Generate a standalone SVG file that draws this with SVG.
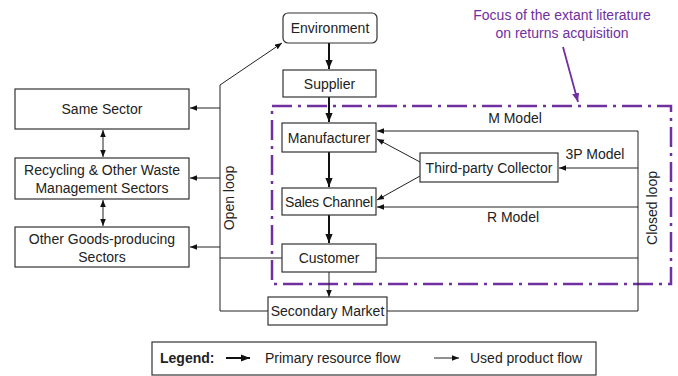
<svg xmlns="http://www.w3.org/2000/svg" width="678" height="376" viewBox="0 0 678 376">
<defs>
<marker id="thin" viewBox="0 0 10 10" refX="10" refY="5" markerWidth="7" markerHeight="7" markerUnits="userSpaceOnUse" orient="auto"><path d="M0,1 L10,5 L0,9 z" fill="#111"/></marker>
<marker id="thick" viewBox="0 0 10 10" refX="10" refY="5" markerWidth="9" markerHeight="9" markerUnits="userSpaceOnUse" orient="auto"><path d="M0,1 L10,5 L0,9 z" fill="#111"/></marker>
<marker id="purp" viewBox="0 0 10 10" refX="10" refY="5" markerWidth="9" markerHeight="9" markerUnits="userSpaceOnUse" orient="auto"><path d="M0,1 L10,5 L0,9 z" fill="#7030A0"/></marker>
</defs>
<style>
text{font-family:"Liberation Sans",Arial,sans-serif;font-size:14px;fill:#222;}
.c{text-anchor:middle;}
.box{fill:#fff;stroke:#333;stroke-width:1.2;}
.ln{fill:none;stroke:#222;stroke-width:1;}
.th{fill:none;stroke:#111;stroke-width:2;}
.p{fill:#7030A0;}
</style>
<rect width="678" height="376" fill="#fff"/>
<g id="focus-region">
<rect x="272" y="106" width="399" height="178" fill="none" stroke="#7030A0" stroke-width="2.5" stroke-dasharray="20,6,3,6"/>
<text class="c p" x="562" y="20">Focus of the extant literature</text>
<text class="c p" x="562" y="38">on returns acquisition</text>
<line x1="563" y1="47" x2="578" y2="102" stroke="#7030A0" stroke-width="1.8" marker-end="url(#purp)"/>
</g>
<g id="connectors">
<line class="th" x1="329" y1="43" x2="329" y2="69" marker-end="url(#thick)"/>
<line class="th" x1="329" y1="97" x2="329" y2="122" marker-end="url(#thick)"/>
<line class="th" x1="329" y1="152" x2="329" y2="187" marker-end="url(#thick)"/>
<line class="th" x1="329" y1="215" x2="329" y2="243" marker-end="url(#thick)"/>
<line class="ln" x1="329" y1="272" x2="329" y2="297" marker-end="url(#thin)"/>
<polyline class="ln" points="638,311 638,131 377,131" marker-end="url(#thin)"/>
<line class="ln" x1="638" y1="168" x2="559" y2="168" marker-end="url(#thin)"/>
<line class="ln" x1="638" y1="207" x2="377" y2="207" marker-end="url(#thin)"/>
<line class="ln" x1="376" y1="258" x2="638" y2="258"/>
<line class="ln" x1="387" y1="311" x2="638" y2="311"/>
<line class="ln" x1="420" y1="162" x2="377" y2="139" marker-end="url(#thin)"/>
<line class="ln" x1="420" y1="176" x2="377" y2="200" marker-end="url(#thin)"/>
<polyline class="ln" points="268,311 220,311 220,85 282,43" marker-end="url(#thin)"/>
<line class="ln" x1="220" y1="258" x2="282" y2="258"/>
<line class="ln" x1="220" y1="108" x2="190" y2="108" marker-end="url(#thin)"/>
<line class="ln" x1="220" y1="178" x2="190" y2="178" marker-end="url(#thin)"/>
<line class="ln" x1="220" y1="247" x2="190" y2="247" marker-end="url(#thin)"/>
<line class="ln" x1="103" y1="143" x2="103" y2="130" marker-end="url(#thin)"/>
<line class="ln" x1="103" y1="143" x2="103" y2="157" marker-end="url(#thin)"/>
<line class="ln" x1="103" y1="213" x2="103" y2="200" marker-end="url(#thin)"/>
<line class="ln" x1="103" y1="213" x2="103" y2="226" marker-end="url(#thin)"/>
<text class="c" x="515" y="123">M Model</text>
<text class="c" x="595" y="159">3P Model</text>
<text class="c" x="513" y="222">R Model</text>
<text class="c" transform="translate(657,208) rotate(-90)">Closed loop</text>
<text class="c" transform="translate(234,198) rotate(-90)">Open loop</text>
</g>
<g id="environment"><rect class="box" x="283" y="13" width="94" height="30" rx="5"/><text class="c" x="330" y="33">Environment</text></g>
<g id="supplier"><rect class="box" x="283" y="70" width="93" height="27"/><text class="c" x="329.5" y="88.5">Supplier</text></g>
<g id="manufacturer"><rect class="box" x="282" y="123" width="94" height="29"/><text class="c" x="329" y="142.5">Manufacturer</text></g>
<g id="sales-channel"><rect class="box" x="282" y="188" width="94" height="27"/><text class="c" x="329" y="206.5" style="letter-spacing:-0.25px">Sales Channel</text></g>
<g id="customer"><rect class="box" x="282" y="244" width="94" height="28"/><text class="c" x="329" y="263">Customer</text></g>
<g id="secondary-market"><rect class="box" x="268" y="297" width="119" height="28"/><text class="c" x="327.5" y="316">Secondary Market</text></g>
<g id="third-party-collector"><rect class="box" x="420" y="153" width="138" height="29"/><text class="c" x="489" y="172.5">Third-party Collector</text></g>
<g id="same-sector"><rect class="box" x="15" y="89" width="174" height="40"/><text class="c" x="102" y="114">Same Sector</text></g>
<g id="recycling"><rect class="box" x="15" y="158" width="174" height="41"/><text class="c" x="102" y="175">Recycling &amp; Other Waste</text><text class="c" x="102" y="193">Management Sectors</text></g>
<g id="other-goods"><rect class="box" x="15" y="227" width="174" height="40"/><text class="c" x="102" y="244">Other Goods-producing</text><text class="c" x="102" y="262">Sectors</text></g>
<g id="legend">
<rect class="box" x="152" y="342" width="444" height="33"/>
<text x="160" y="363" style="font-weight:bold">Legend:</text>
<line class="th" x1="226" y1="358" x2="250" y2="358" marker-end="url(#thick)"/>
<text x="265" y="363">Primary resource flow</text>
<line class="ln" x1="434" y1="358" x2="459" y2="358" marker-end="url(#thin)"/>
<text x="470" y="363">Used product flow</text>
</g>
</svg>
